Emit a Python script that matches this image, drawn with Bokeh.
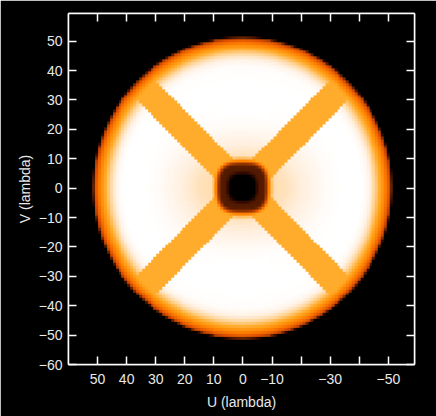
import numpy as np
from bokeh.embed import file_html
from bokeh.resources import INLINE
from bokeh.plotting import figure
from bokeh.models import LinearAxis, FixedTicker, LinearColorMapper, Range1d

x_ticks = [50, 40, 30, 20, 10, 0, -10, -20, -30, -40, -50]
x_tick_labels = ["50", "40", "30", "20", "10", "0", "\u221210", "", "\u221230", "", "\u221250"]
y_ticks = [50, 40, 30, 20, 10, 0, -10, -20, -30, -40, -50, -60]
y_tick_labels = ["50", "40", "30", "20", "10", "0", "\u221210", "\u221220", "\u221230", "\u221240", "\u221250", "\u221260"]

# brightness (0 black .. 1 white) read along the picture's axes and arms
profile_r = [0, 10, 15, 20, 25, 30, 35, 41, 43, 45, 47, 48.5, 50, 50.8, 51.5]
horizontal_v = [.76, .76, .79, .85, .92, .98, 1, 1, .93, .76, .58, .48, .38, .30, 0]
vertical_v = [.78, .78, .86, .95, 1, 1, 1, .98, .91, .76, .58, .48, .38, .30, 0]
arm_v = .57
arm_half_width = 4.8
hole_r = [0, 4.2, 5.5, 7.6, 8.4, 9.2, 10, 10.5, 11.5]
hole_v = [0, 0, .17, .2, .32, .5, .65, .8, 1]

palette_v = [0, .1, .2, .35, .45, .55, .7, .85, 1]
palette_rgb = [(0, 0, 0), (48, 8, 0), (90, 30, 0), (224, 80, 0), (255, 128, 0),
               (255, 166, 30), (255, 208, 140), (255, 238, 220), (255, 255, 255)]

u = np.arange(-60, 61)
v = np.arange(-60, 61)
U, V = np.meshgrid(u, v)
R = np.hypot(U, V)
w = V ** 2 / np.maximum(R ** 2, 1)
field = (1 - w) * np.interp(R, profile_r, horizontal_v) + w * np.interp(R, profile_r, vertical_v)
arm = (np.abs(U - V) / np.sqrt(2) < arm_half_width) | (np.abs(U + V) / np.sqrt(2) < arm_half_width)
field = np.where(arm, np.minimum(field, arm_v), field)
Rs = (np.abs(U) ** 3.0 + np.abs(V) ** 3.0) ** (1 / 3)
field = np.minimum(field, np.interp(Rs, hole_r, hole_v))

levels = np.linspace(0, 1, 256)
palette = ["#%02x%02x%02x" % tuple(int(round(np.interp(l, palette_v, [c[i] for c in palette_rgb]))) for i in range(3))
           for l in levels]
mapper = LinearColorMapper(palette=palette, low=0, high=1)

W, H = 436, 416
p = figure(width=W, height=H, output_backend="svg", toolbar_location=None,
           x_range=Range1d(60, -59), y_range=Range1d(-60, 59.4),
           x_axis_location=None, y_axis_location=None,
           background_fill_color="black", border_fill_color="black",
           min_border_left=68, min_border_right=22, min_border_top=13, min_border_bottom=52,
           outline_line_color="white", outline_line_width=1.5)
p.grid.visible = False
p.image(image=[field], x=-60.5, y=-60.5, dw=121, dh=121, color_mapper=mapper)

FONT = "Liberation Sans"
def style(ax):
    ax.axis_line_color = "white"
    ax.axis_line_width = 1.5
    ax.major_tick_line_color = "white"
    ax.major_tick_line_width = 1.5
    ax.major_tick_in = 8
    ax.major_tick_out = 0
    ax.minor_tick_line_color = None
    ax.major_label_text_color = "#e8e8e8"
    ax.major_label_text_font = FONT
    ax.major_label_text_font_size = "14px"
    ax.axis_label_text_color = "#e8e8e8"
    ax.axis_label_text_font = FONT
    ax.axis_label_text_font_size = "14px"
    ax.axis_label_text_font_style = "normal"

xt = FixedTicker(ticks=x_ticks)
yt = FixedTicker(ticks=y_ticks)
bottom = LinearAxis(ticker=xt, axis_label="U (lambda)", axis_label_standoff=7, major_label_standoff=9,
                    major_label_overrides=dict(zip(x_ticks, x_tick_labels)))
left = LinearAxis(ticker=yt, axis_label="V (lambda)", axis_label_standoff=3, major_label_standoff=6,
                  major_label_overrides=dict(zip(y_ticks, y_tick_labels)))
top = LinearAxis(ticker=xt)
right = LinearAxis(ticker=yt)
for a in (bottom, left, top, right):
    style(a)
top.major_label_text_color = None
right.major_label_text_color = None
top.major_label_text_font_size = "0px"
right.major_label_text_font_size = "0px"
p.add_layout(bottom, "below")
p.add_layout(left, "left")
p.add_layout(top, "above")
p.add_layout(right, "right")

open("out.html", "w").write(file_html(p, INLINE))
